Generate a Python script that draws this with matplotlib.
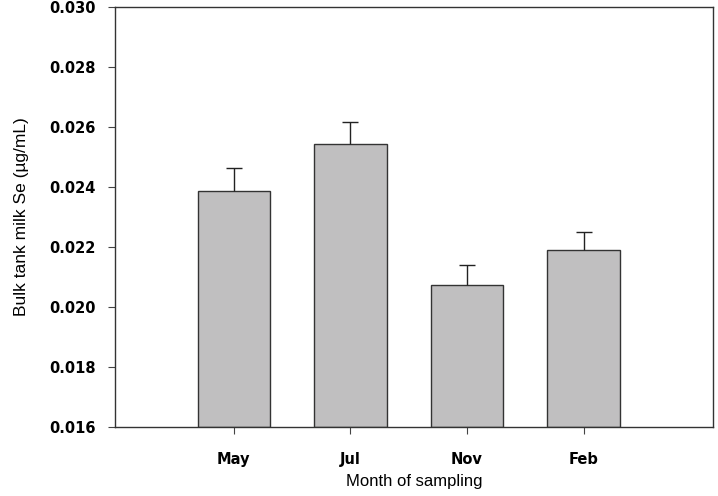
import numpy as np
import matplotlib.pyplot as plt

# Bulk tank milk Se by month of sampling
months = ["May", "Jul", "Nov", "Feb"]
se_mean = [0.02387, 0.02543, 0.02075, 0.02190]
se_err = [0.00075, 0.00072, 0.00065, 0.00060]

plt.rcParams['font.family'] = ['Liberation Sans', 'DejaVu Sans']

fig = plt.figure(figsize=(7.18, 4.96), dpi=100)
ax = fig.add_axes([0.160, 0.139, 0.833, 0.847])

x = np.arange(1, len(months) + 1)
ax.bar(x, np.array(se_mean) - 0.016, bottom=0.016, width=0.62,
       color="#c0bfc0", edgecolor="#333333", linewidth=1.0)
_, caps, _ = ax.errorbar(x, se_mean, yerr=[np.zeros(len(se_err)), se_err], fmt="none",
                         ecolor="#222222", elinewidth=1.0, capsize=6, capthick=1.0)
caps[0].set_visible(False)  # only the upper cap

ax.set_xlim(-0.02, 5.11)
ax.set_ylim(0.016, 0.030)
yt = np.arange(0.016, 0.0301, 0.002)
ax.set_yticks(yt)
ax.set_yticklabels([f"{v:.3f}" for v in yt])
ax.set_xticks(x)
ax.set_xticklabels(months)

for lbl in ax.get_xticklabels() + ax.get_yticklabels():
    lbl.set_family("DejaVu Sans")
    lbl.set_fontweight("bold")
    lbl.set_fontsize(10.5)

ax.tick_params(direction="out", length=5, width=0.8, color="#444444")
ax.tick_params(axis="y", pad=9)
ax.tick_params(axis="x", pad=13)
for s in ax.spines.values():
    s.set_color("#333333")
    s.set_linewidth(1.0)

ax.set_xlabel("Month of sampling", fontsize=12, labelpad=5)
ax.set_ylabel("Bulk tank milk Se (\u00b5g/mL)", fontsize=12.5, labelpad=14)

fig.savefig("out.png", dpi=100)
